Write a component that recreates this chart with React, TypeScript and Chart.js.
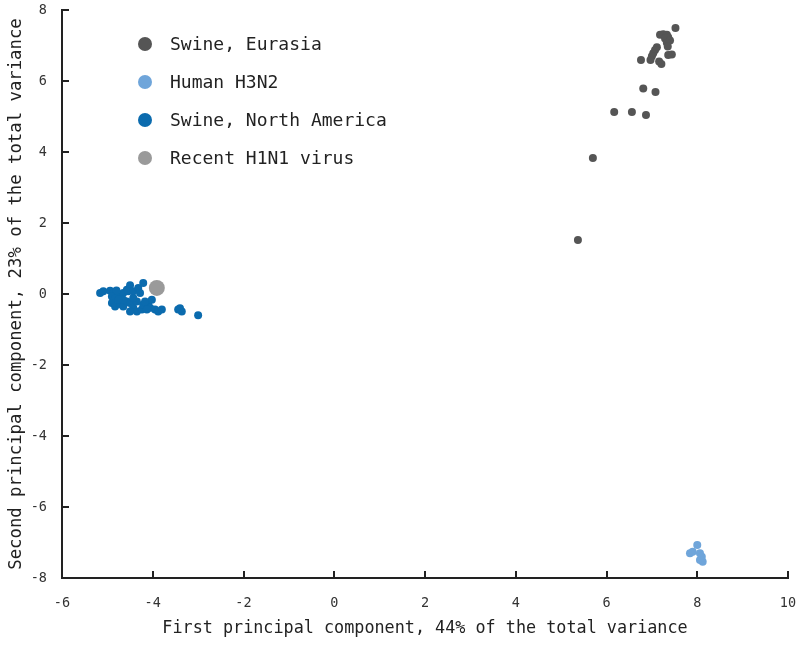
import React, { useEffect, useRef } from "react";
import { Chart, registerables } from "chart.js";

Chart.register(...registerables);

const FONT = "'DejaVu Sans Mono', monospace";

const seriesLabels = ["Swine, Eurasia", "Human H3N2", "Swine, North America", "Recent H1N1 virus"];
const seriesColors = ["#555555", "#6fa5da", "#0b6bae", "#9a9a9a"];

const eurasiaX = [7.52, 7.18, 7.25, 7.33, 7.36, 7.29, 7.40, 7.33, 7.35, 7.11, 7.07, 7.03, 7.00, 7.44, 7.36, 6.76, 6.97, 7.16, 7.21, 6.81, 7.08, 6.17, 6.56, 6.87, 5.70, 5.37];
const eurasiaY = [7.49, 7.30, 7.32, 7.30, 7.23, 7.20, 7.14, 7.08, 6.97, 6.95, 6.87, 6.78, 6.70, 6.75, 6.73, 6.59, 6.59, 6.55, 6.48, 5.79, 5.69, 5.13, 5.13, 5.04, 3.83, 1.52];

const humanX = [8.00, 7.84, 7.90, 8.06, 8.10, 8.12, 8.06];
const humanY = [-7.07, -7.30, -7.26, -7.30, -7.40, -7.54, -7.49];

const naX = [-5.16, -5.09, -4.94, -4.87, -4.90, -4.83, -4.72, -4.65, -4.57, -4.50, -4.54, -4.43, -4.32, -4.21, -4.28, -4.90, -4.83, -4.72, -4.65, -4.57, -4.50, -4.43, -4.35, -4.24, -4.21, -4.10, -4.06, -4.02, -3.95, -3.88, -3.80, -4.17, -3.44, -3.36, -3.00, -4.35, -4.65, -4.76, -4.13, -4.43, -4.50, -3.40, -4.80];
const naY = [0.03, 0.08, 0.09, 0.03, -0.07, -0.13, -0.07, 0.03, 0.12, 0.25, 0.08, 0.08, 0.17, 0.31, 0.03, -0.25, -0.35, -0.28, -0.35, -0.21, -0.25, -0.39, -0.49, -0.44, -0.30, -0.25, -0.39, -0.16, -0.44, -0.49, -0.44, -0.21, -0.44, -0.49, -0.60, -0.21, -0.16, -0.16, -0.44, -0.11, -0.49, -0.40, 0.10];

const recentX = [-3.91];
const recentY = [0.17];

const xTitle = "First principal component, 44% of the total variance";
const yTitle = "Second principal component, 23% of the total variance";

const toPoints = (xs: number[], ys: number[]) => xs.map((x, i) => ({ x, y: ys[i] }));

const legendPlugin = {
  id: "customLegend",
  afterDraw(chart: any) {
    const { ctx, chartArea } = chart;
    ctx.save();
    chart.data.datasets.forEach((ds: any, i: number) => {
      const cy = chartArea.top + 34 + i * 38;
      const cx = chartArea.left + 83;
      ctx.beginPath();
      ctx.arc(cx, cy, 7, 0, Math.PI * 2);
      ctx.fillStyle = ds.backgroundColor;
      ctx.fill();
      ctx.fillStyle = "#222";
      ctx.font = `18px ${FONT}`;
      ctx.textBaseline = "middle";
      ctx.textAlign = "left";
      ctx.fillText(ds.label, cx + 25, cy + 1);
    });
    ctx.restore();
  },
};

const zeroPad = (s: any) => {
  s.paddingLeft = 0;
  s.paddingRight = 0;
  s.paddingTop = 0;
  s.paddingBottom = 0;
};

export default function App() {
  const ref = useRef<HTMLCanvasElement | null>(null);
  useEffect(() => {
    if (!ref.current) return;
    const radii = [4, 4, 4, 8];
    const sets = [
      toPoints(eurasiaX, eurasiaY),
      toPoints(humanX, humanY),
      toPoints(naX, naY),
      toPoints(recentX, recentY),
    ];
    const chart = new Chart(ref.current, {
      type: "scatter",
      data: {
        datasets: sets.map((data, i) => ({
          label: seriesLabels[i],
          data,
          backgroundColor: seriesColors[i],
          borderColor: seriesColors[i],
          borderWidth: 0,
          pointRadius: radii[i],
          pointHoverRadius: radii[i],
          order: i === 3 ? 0 : 1,
        })),
      },
      options: {
        animation: false,
        responsive: false,
        layout: { padding: { top: 10, right: 12, left: 0, bottom: 0 } },
        plugins: { legend: { display: false }, tooltip: { enabled: false } },
        scales: {
          x: {
            type: "linear",
            min: -6,
            max: 10,
            afterFit: (s: any) => { s.height = 68; zeroPad(s); },
            ticks: { stepSize: 2, padding: 24, color: "#333", font: { family: FONT, size: 13.5 } },
            grid: { drawOnChartArea: false, drawTicks: true, tickLength: -7, color: "#222", lineWidth: 2 },
            border: { display: true, color: "#222", width: 2 },
            title: { display: true, text: xTitle, color: "#222", font: { family: FONT, size: 16.8 }, padding: { top: 0, bottom: 7 } },
          },
          y: {
            type: "linear",
            min: -8,
            max: 8,
            afterFit: (s: any) => { s.width = 62; zeroPad(s); },
            ticks: { stepSize: 2, padding: 22, color: "#333", font: { family: FONT, size: 13.5 } },
            grid: { drawOnChartArea: false, drawTicks: true, tickLength: -7, color: "#222", lineWidth: 2 },
            border: { display: true, color: "#222", width: 2 },
            title: { display: true, text: yTitle, color: "#222", font: { family: FONT, size: 17.3 }, padding: { top: 6, bottom: 0 } },
          },
        },
      },
      plugins: [legendPlugin],
    } as any);
    return () => chart.destroy();
  }, []);
  return (
    <div style={{ position: "absolute", left: 0, top: 0, width: 800, height: 646 }}>
      <canvas ref={ref} width={800} height={646} style={{ width: 800, height: 646, display: "block" }} />
    </div>
  );
}
